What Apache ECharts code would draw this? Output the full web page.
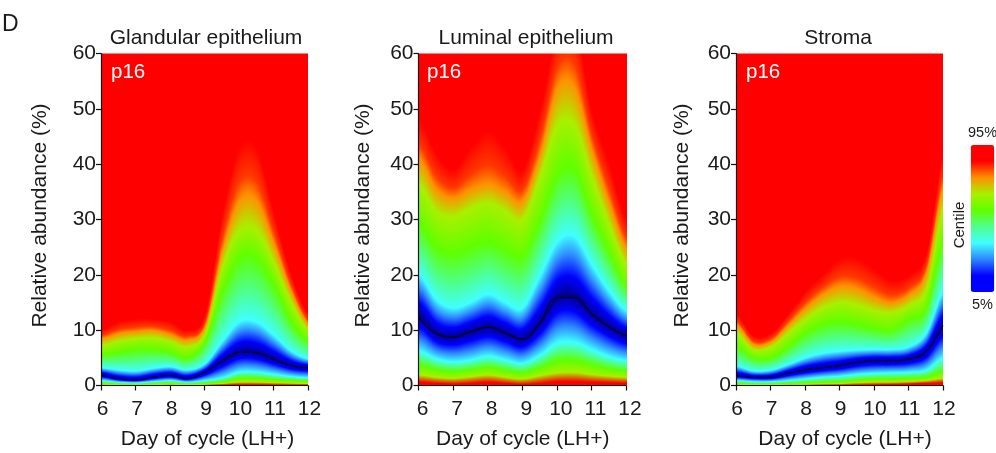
<!DOCTYPE html>
<html><head><meta charset="utf-8">
<style>html,body{margin:0;padding:0;background:#fff}#c{width:996px;height:453px}</style>
<script src="https://cdn.jsdelivr.net/npm/echarts@6/dist/echarts.min.js"></script>
</head><body><div id="c"></div>
<script>
const days = [6,6.5,7,7.5,8,8.5,9,9.5,10,10.5,11,11.5,12];
const xTicks = [6,7,8,9,10,11,12];
const panelNames = ['Glandular epithelium','Luminal epithelium','Stroma'];

// Abundance (%) at which each colour of the centile map sits, read per half day
const glandMedian    = [1.9,1.2,1.0,1.5,1.8,1.3,2.4,4.4,6.0,5.9,4.7,3.6,3.2];
const glandCyanUp    = [3.2,2.8,2.6,3.1,3.4,2.8,4.0,8.0,11.5,11.5,9.0,6.2,4.8];
const glandGreenUp   = [5.5,6.0,6.5,6.5,6.0,5.0,8.0,17,23,23,18,11.5,8.0];
const glandLimeUp    = [7.2,8.0,8.5,8.6,8.0,7.0,9.5,21.5,28,28,22,15,10];
const glandOrangeUp  = [8.5,9.4,9.8,10,9.2,8.3,10.8,24.5,33.5,33.5,25.5,17,11.2];
const glandRedUp     = [10,11.5,12,12,11.5,10,13,31,43,43,31,20,13];
const glandCyanLow   = [0.9,0.6,0.5,0.7,0.9,0.6,0.9,1.4,2.4,2.4,2.0,1.6,1.4];
const glandGreenLow  = [0.45,0.3,0.25,0.35,0.45,0.3,0.45,0.7,1.3,1.3,1.1,0.9,0.8];
const glandLimeLow   = [0.2,0.15,0.1,0.15,0.2,0.15,0.2,0.35,0.6,0.6,0.5,0.4,0.35];
const glandRedLow    = [0.05,0.05,0.04,0.05,0.05,0.05,0.05,0.1,0.15,0.15,0.12,0.1,0.1];

const lumMedian      = [12.5,9.4,8.8,9.7,10.5,9.5,8.4,11.3,15.8,15.9,13,10.6,9.0];
const lumCyanUp      = [20,15.5,14,15,16.5,15,14,20,26,27,22,17,13.5];
const lumGreenUp     = [29,25,24,25,26,24.5,23.5,30,38,39,31,24,18];
const lumLimeUp      = [36,31.5,30.5,32,33,31.5,30,38,47,47,38,29,22];
const lumOrangeUp    = [41,35.5,34,35.5,36.5,35,33.5,42,54,54,43,33,25];
const lumRedUp       = [48,42,39,43,46,43,39,50,64,66,50,40,30];
const lumCyanLow     = [6.2,4.8,4.3,4.6,5.3,4.6,4.0,5.5,7.7,7.8,6.5,5.2,4.5];
const lumGreenLow    = [3.6,2.8,2.5,2.8,3.2,2.7,2.3,3.2,4.4,4.5,3.7,3.0,2.6];
const lumLimeLow     = [1.9,1.5,1.3,1.6,1.9,1.5,1.2,1.8,2.3,2.4,2.0,1.7,1.5];
const lumRedLow      = [0.6,0.4,0.3,0.4,0.6,0.4,0.2,0.4,0.7,0.7,0.6,0.5,0.4];

const stromaMedian   = [1.8,1.5,1.5,2.2,2.8,3.2,3.6,4.2,4.5,4.5,4.8,6.2,10.8];
const stromaCyanUp   = [3.5,2.6,2.8,3.8,5.0,5.8,6.2,6.4,6.5,6.5,7.0,9.5,17];
const stromaGreenUp  = [7.0,5.0,5.0,7.0,9.5,11,11.5,11,10.3,10,12,14,26];
const stromaLimeUp   = [9.5,6.5,7.0,9.5,12,14,15,14.5,13.5,13.2,14.5,17.5,32];
const stromaOrangeUp = [11,7.5,8.0,11,14,16.5,18,17.5,16,15,16.5,20.5,36];
const stromaRedUp    = [13,9.0,9.5,13,17,20,23,23,21,19,20,24,42];
const stromaCyanLow  = [0.9,0.7,0.7,0.9,1.2,1.5,1.7,2.0,2.2,2.3,2.4,2.8,5.0];
const stromaGreenLow = [0.4,0.3,0.3,0.4,0.5,0.6,0.7,1.0,1.2,1.2,1.3,1.5,2.5];
const stromaLimeLow  = [0.2,0.15,0.15,0.2,0.2,0.3,0.35,0.5,0.6,0.6,0.7,0.9,1.3];
const stromaRedLow   = [0.02,0.02,0.02,0.02,0.03,0.05,0.07,0.1,0.15,0.2,0.3,0.4,0.5];

const panelCurves = [
  [glandRedUp,glandOrangeUp,glandLimeUp,glandGreenUp,glandCyanUp,glandMedian,glandCyanLow,glandGreenLow,glandLimeLow,glandRedLow],
  [lumRedUp,lumOrangeUp,lumLimeUp,lumGreenUp,lumCyanUp,lumMedian,lumCyanLow,lumGreenLow,lumLimeLow,lumRedLow],
  [stromaRedUp,stromaOrangeUp,stromaLimeUp,stromaGreenUp,stromaCyanUp,stromaMedian,stromaCyanLow,stromaGreenLow,stromaLimeLow,stromaRedLow]
];
const medians = [glandMedian,lumMedian,stromaMedian];

const RED='#ff0000',ORANGE='#ff9000',LIME='#a8f000',GREEN='#60ff00',CYAN='#40ffff';
const levelColors=[RED,ORANGE,LIME,GREEN,CYAN,'#000080',CYAN,GREEN,LIME,RED];
const darkRamp=[[0.08,'#0000b0'],[0.32,'#0000ff'],[0.66,'#2e86ff']]; // median→cyan
const legendColors=['#0000ff','#0000ff','#2e86ff',CYAN,'#50ff90',GREEN,LIME,ORANGE,RED,RED];

const MEDIAN_LEVEL=5, TOP=70, TAIL=0.35, TAIL_COLOR='#ff3800';
function cr(p0,p1,p2,p3,t){
  return 0.5*((2*p1)+(-p0+p2)*t+(2*p0-5*p1+4*p2-p3)*t*t+(-p0+3*p1-3*p2+p3)*t*t*t);
}
function renderBand(params,api){
  const i=params.dataIndex, last=days.length-1;
  if(i>=last) return {type:'group',children:[]};
  const n=levelColors.length;
  const idx=[Math.max(i-1,0),i,i+1,Math.min(i+2,last)];
  const vals=idx.map(j=>{const a=[];for(let k=0;k<n;k++)a.push(api.value(k+1,j));return a;});
  const d0=api.value(0,i), d1=api.value(0,i+1);
  const xA=Math.round(api.coord([d0,0])[0]), xB=Math.round(api.coord([d1,0])[0]);
  const yTop=api.coord([d0,TOP])[1], yBot=api.coord([d0,0])[1];
  const off=v=>Math.min(1,Math.max(0,(api.coord([d0,v])[1]-yTop)/(yBot-yTop)));
  const children=[];
  const end=(i===last-1)?xB+2:xB;
  for(let x=xA;x<end;x++){
    const t=Math.min(1,(x-xA)/(xB-xA));
    const lv=[];
    for(let k=0;k<n;k++) lv.push(cr(vals[0][k],vals[1][k],vals[2][k],vals[3][k],t));
    const stops=[{offset:0,color:RED}];
    let prev=0;
    const push=(o,c)=>{o=Math.max(prev,o);prev=o;stops.push({offset:o,color:c});};
    for(let k=0;k<n;k++){
      push(off(lv[k]),levelColors[k]);
      if(k===0) push(off(lv[1]+TAIL*(lv[0]-lv[1])),TAIL_COLOR);
      if(k===MEDIAN_LEVEL-1){ // cyan above → median
        for(let r=darkRamp.length-1;r>=0;r--) push(off(lv[MEDIAN_LEVEL]+darkRamp[r][0]*(lv[k]-lv[MEDIAN_LEVEL])),darkRamp[r][1]);
      }
      if(k===MEDIAN_LEVEL){ // median → cyan below
        for(let r=0;r<darkRamp.length;r++) push(off(lv[k]+darkRamp[r][0]*(lv[k+1]-lv[k])),darkRamp[r][1]);
      }
    }
    stops.push({offset:1,color:RED});
    children.push({type:'rect',shape:{x:x,y:yTop,width:1,height:yBot-yTop},
      style:{fill:{type:'linear',x:0,y:0,x2:0,y2:1,colorStops:stops}},silent:true});
  }
  return {type:'group',children:children};
}

const FONT='"Liberation Sans",Arial,sans-serif', INK='#1a1a1a';
const grids=[{left:101,width:207},{left:418.5,width:207.5},{left:736,width:207}];
const labelShift=[3,8,2], nameShift=[6,1,11];

const option={
  animation:false,backgroundColor:'#fff',
  title:[
    {text:'D',left:-3,top:8,textStyle:{fontFamily:FONT,fontSize:23,fontWeight:'normal',color:INK}},
    ...panelNames.map((t,i)=>({text:t,left:[201,521,833][i],top:22.5,textAlign:'center',
      textStyle:{fontFamily:FONT,fontSize:21,fontWeight:'normal',color:INK}})),
    ...[106,422,741].map(x=>({text:'p16',left:x,top:56.5,textStyle:{fontFamily:FONT,fontSize:20.5,fontWeight:'normal',color:'#fff'},z:10}))
  ],
  grid:grids.map(g=>({left:g.left,width:g.width,top:53.5,height:332,containLabel:false,outerBoundsMode:'none'})),
  xAxis:grids.map((g,i)=>({type:'value',gridIndex:i,min:6,max:12,interval:1,z:5,
    name:'Day of cycle (LH+)',nameLocation:'middle',nameGap:43,
    nameTextStyle:{fontFamily:FONT,fontSize:21,color:INK,padding:[0,0,0,nameShift[i]]},
    axisLine:{show:true,onZero:false,lineStyle:{color:'#111',width:1.2}},
    axisTick:{show:true,length:5,lineStyle:{color:'#111',width:1.2}},
    axisLabel:{show:true,fontFamily:FONT,fontSize:21,color:INK,margin:13,padding:[0,0,0,labelShift[i]],
      showMinLabel:true,showMaxLabel:true,hideOverlap:false,customValues:xTicks},
    splitLine:{show:false}})),
  yAxis:grids.map((g,i)=>({type:'value',gridIndex:i,min:0,max:60,interval:10,z:5,
    name:'Relative abundance (%)',nameLocation:'middle',nameGap:[50.5,44.5,43.5][i],nameRotate:90,
    nameTextStyle:{fontFamily:FONT,fontSize:21,color:INK,padding:[0,0,0,8]},
    axisLine:{show:true,onZero:false,lineStyle:{color:'#111',width:1.2}},
    axisTick:{show:true,length:5,lineStyle:{color:'#111',width:1.2}},
    axisLabel:{show:true,fontFamily:FONT,fontSize:21,color:INK,margin:5,showMinLabel:true,showMaxLabel:true},
    splitLine:{show:false}})),
  visualMap:[{type:'continuous',seriesIndex:0,dimension:1,min:5,max:95,left:953,top:110,
    itemWidth:23.5,itemHeight:147,text:['95%','5%'],textGap:5,calculable:false,realtime:false,hoverLink:false,
    silent:true,inRange:{color:legendColors},textStyle:{fontFamily:FONT,fontSize:14.5,color:INK}}],
  graphic:[{type:'text',x:960,y:225,rotation:Math.PI/2,silent:true,
    style:{text:'Centile',fontFamily:FONT,fontSize:15,fill:INK,align:'center',verticalAlign:'middle'}}],
  series:[]
};
panelCurves.forEach((curves,p)=>{
  option.series.push({type:'custom',xAxisIndex:p,yAxisIndex:p,clip:true,silent:true,z:2,
    coordinateSystem:'cartesian2d',renderItem:renderBand,encode:{x:0,y:1},
    data:days.map((d,i)=>[d].concat(curves.map(c=>c[i])))});
});
medians.forEach((m,p)=>{
  option.series.push({type:'line',xAxisIndex:p,yAxisIndex:p,smooth:0.5,symbol:'none',silent:true,z:3,
    lineStyle:{color:'#000',width:1,type:p===1?'solid':[7,3]},
    data:days.map((d,i)=>[d,m[i]])});
});
echarts.init(document.getElementById('c'),null,{renderer:'canvas'}).setOption(option);
</script></body></html>
